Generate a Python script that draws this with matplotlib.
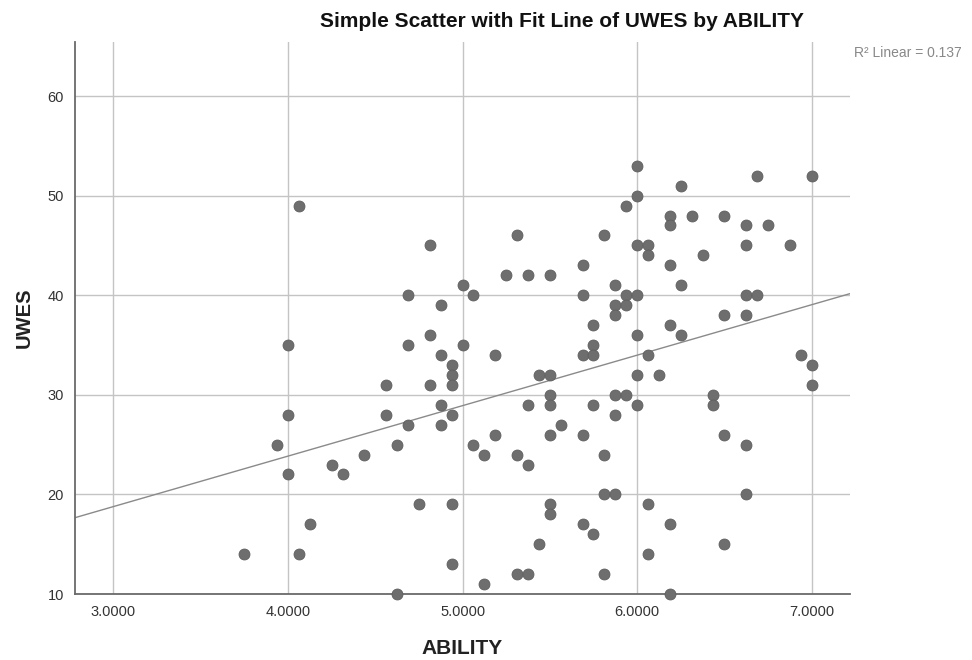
import numpy as np
import matplotlib.pyplot as plt
from matplotlib.ticker import FormatStrFormatter

plt.rcParams['font.family'] = ['Liberation Sans', 'DejaVu Sans']

# ABILITY (x) and UWES (y)
ability = [3.75, 3.9375, 4.0, 4.0, 4.0, 4.0625, 4.0625, 4.125, 4.25, 4.3125,
           4.4375, 4.5625, 4.5625, 4.625, 4.625, 4.6875, 4.6875, 4.6875, 4.75,
           4.8125, 4.8125, 4.8125, 4.875, 4.875, 4.875, 4.875,
           4.9375, 4.9375, 4.9375, 4.9375, 4.9375, 4.9375, 5.0, 5.0,
           5.0625, 5.0625, 5.125, 5.125, 5.1875, 5.1875, 5.25,
           5.3125, 5.3125, 5.3125, 5.375, 5.375, 5.375, 5.375, 5.4375, 5.4375,
           5.5, 5.5, 5.5, 5.5, 5.5, 5.5, 5.5, 5.5625,
           5.6875, 5.6875, 5.6875, 5.6875, 5.6875,
           5.75, 5.75, 5.75, 5.75, 5.75,
           5.8125, 5.8125, 5.8125, 5.8125,
           5.875, 5.875, 5.875, 5.875, 5.875, 5.875,
           5.9375, 5.9375, 5.9375, 5.9375,
           6.0, 6.0, 6.0, 6.0, 6.0, 6.0, 6.0,
           6.0625, 6.0625, 6.0625, 6.0625, 6.0625, 6.125,
           6.1875, 6.1875, 6.1875, 6.1875, 6.1875, 6.1875,
           6.25, 6.25, 6.25, 6.3125, 6.375, 6.4375, 6.4375,
           6.5, 6.5, 6.5, 6.5,
           6.625, 6.625, 6.625, 6.625, 6.625, 6.625,
           6.6875, 6.6875, 6.75, 6.875, 6.9375, 7.0, 7.0, 7.0]
uwes = [14, 25, 35, 28, 22, 49, 14, 17, 23, 22,
        24, 31, 28, 25, 10, 35, 40, 27, 19,
        45, 36, 31, 39, 34, 29, 27,
        33, 32, 31, 28, 19, 13, 41, 35,
        40, 25, 24, 11, 34, 26, 42,
        46, 24, 12, 42, 29, 23, 12, 32, 15,
        42, 32, 30, 29, 26, 19, 18, 27,
        43, 40, 34, 26, 17,
        37, 35, 34, 29, 16,
        46, 24, 20, 12,
        41, 39, 38, 30, 28, 20,
        49, 40, 39, 30,
        53, 50, 45, 40, 36, 32, 29,
        45, 44, 34, 19, 14, 32,
        48, 47, 43, 37, 17, 10,
        51, 41, 36, 48, 44, 30, 29,
        48, 38, 26, 15,
        47, 45, 40, 38, 25, 20,
        40, 52, 47, 45, 34, 52, 33, 31]

x_ticks = [3.0, 4.0, 5.0, 6.0, 7.0]
y_ticks = [10, 20, 30, 40, 50, 60]
r2_label = "R\u00b2 Linear = 0.137"

fig = plt.figure(figsize=(9.72, 6.60), dpi=100)
ax = fig.add_axes([0.0772, 0.1, 0.7973, 0.836])

ax.set_xlim(2.78, 7.22)
ax.set_ylim(10, 65.4)

# grid at the ticks
ax.set_xticks(x_ticks)
ax.set_yticks(y_ticks)
ax.grid(True, color='#c4c4c4', linewidth=1.0)
ax.set_axisbelow(True)

ax.scatter(ability, uwes, s=62, color='#6e6e6e', edgecolors='#5e5e5e',
           linewidths=0.6, zorder=3, clip_on=False)

# linear fit line across the full x range
slope, intercept = np.polyfit(ability, uwes, 1)
xs = np.array(ax.get_xlim())
ax.plot(xs, slope * xs + intercept, color='#8a8a8a', linewidth=1.0, zorder=2)

for side in ['top', 'right']:
    ax.spines[side].set_visible(False)
for side in ['left', 'bottom']:
    ax.spines[side].set_color('#6a6a6a')
    ax.spines[side].set_linewidth(1.3)

ax.xaxis.set_major_formatter(FormatStrFormatter('%.4f'))
ax.tick_params(length=0, labelsize=10.5, colors='#333333', pad=8)

ax.set_xlabel("ABILITY", fontsize=15, fontweight='bold', color='#222222', va='center')
ax.set_ylabel("UWES", fontsize=14.5, fontweight='bold', color='#222222', va='center')
ax.xaxis.set_label_coords(0.4994, -0.098)
ax.yaxis.set_label_coords(-0.066, 0.5)

fig.text(0.5787, 0.967, "Simple Scatter with Fit Line of UWES by ABILITY",
         ha='center', va='center', fontsize=15, fontweight='bold', color='#111111')
fig.text(0.9897, 0.919, r2_label, ha='right', va='center', fontsize=10, color='#888888')

fig.savefig('out.png', dpi=100)
